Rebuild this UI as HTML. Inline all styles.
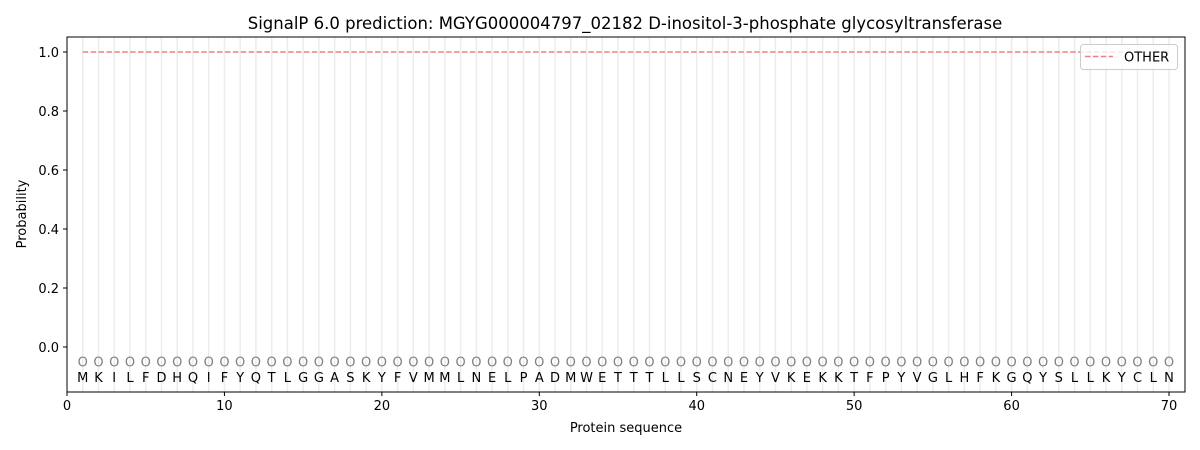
<!DOCTYPE html>
<html><head><meta charset="utf-8"><style>html,body{margin:0;padding:0;background:#fff}svg{display:block}</style></head><body>
<svg width="1200" height="450" xmlns="http://www.w3.org/2000/svg" font-family="'DejaVu Sans', 'Liberation Sans', sans-serif">
<rect width="1200" height="450" fill="#fff"/>
<path stroke="#ececec" stroke-width="1.5" fill="none" d="M82.74 37V392M98.49 37V392M114.23 37V392M129.97 37V392M145.72 37V392M161.46 37V392M177.20 37V392M192.94 37V392M208.69 37V392M224.43 37V392M240.17 37V392M255.92 37V392M271.66 37V392M287.40 37V392M303.15 37V392M318.89 37V392M334.63 37V392M350.37 37V392M366.12 37V392M381.86 37V392M397.60 37V392M413.35 37V392M429.09 37V392M444.83 37V392M460.58 37V392M476.32 37V392M492.06 37V392M507.80 37V392M523.55 37V392M539.29 37V392M555.03 37V392M570.78 37V392M586.52 37V392M602.26 37V392M618.01 37V392M633.75 37V392M649.49 37V392M665.23 37V392M680.98 37V392M696.72 37V392M712.46 37V392M728.21 37V392M743.95 37V392M759.69 37V392M775.44 37V392M791.18 37V392M806.92 37V392M822.66 37V392M838.41 37V392M854.15 37V392M869.89 37V392M885.64 37V392M901.38 37V392M917.12 37V392M932.87 37V392M948.61 37V392M964.35 37V392M980.09 37V392M995.84 37V392M1011.58 37V392M1027.32 37V392M1043.07 37V392M1058.81 37V392M1074.55 37V392M1090.30 37V392M1106.04 37V392M1121.78 37V392M1137.52 37V392M1153.27 37V392M1169.01 37V392"/>
<line x1="82.74" y1="52" x2="1169.01" y2="52" stroke="#f08080" stroke-width="1.5" stroke-dasharray="5.5,2.4"/>
<g font-size="13" text-anchor="middle">
<text y="366.5" fill="#808080" x="82.74 98.49 114.23 129.97 145.72 161.46 177.20 192.94 208.69 224.43 240.17 255.92 271.66 287.40 303.15 318.89 334.63 350.37 366.12 381.86 397.60 413.35 429.09 444.83 460.58 476.32 492.06 507.80 523.55 539.29 555.03 570.78 586.52 602.26 618.01 633.75 649.49 665.23 680.98 696.72 712.46 728.21 743.95 759.69 775.44 791.18 806.92 822.66 838.41 854.15 869.89 885.64 901.38 917.12 932.87 948.61 964.35 980.09 995.84 1011.58 1027.32 1043.07 1058.81 1074.55 1090.30 1106.04 1121.78 1137.52 1153.27 1169.01">OOOOOOOOOOOOOOOOOOOOOOOOOOOOOOOOOOOOOOOOOOOOOOOOOOOOOOOOOOOOOOOOOOOOOO</text>
<text y="382" fill="#000" x="82.74 98.49 114.23 129.97 145.72 161.46 177.20 192.94 208.69 224.43 240.17 255.92 271.66 287.40 303.15 318.89 334.63 350.37 366.12 381.86 397.60 413.35 429.09 444.83 460.58 476.32 492.06 507.80 523.55 539.29 555.03 570.78 586.52 602.26 618.01 633.75 649.49 665.23 680.98 696.72 712.46 728.21 743.95 759.69 775.44 791.18 806.92 822.66 838.41 854.15 869.89 885.64 901.38 917.12 932.87 948.61 964.35 980.09 995.84 1011.58 1027.32 1043.07 1058.81 1074.55 1090.30 1106.04 1121.78 1137.52 1153.27 1169.01">MKILFDHQIFYQTLGGASKYFVMMLNELPADMWETTTLLSCNEYVKEKKTFPYVGLHFKGQYSLLKYCLN</text>
</g>
<rect x="67" y="37" width="1118" height="355" fill="none" stroke="#000" stroke-width="1"/>
<g stroke="#000" stroke-width="1">
<path d="M67 392v4M224.43 392v4M381.86 392v4M539.29 392v4M696.72 392v4M854.15 392v4M1011.58 392v4M1169.01 392v4"/>
<path d="M67 347h-4M67 288h-4M67 229h-4M67 170h-4M67 111h-4M67 52h-4"/>
</g>
<g font-size="13" fill="#000" text-anchor="middle">
<text x="67" y="410">0</text><text x="224.43" y="410">10</text><text x="381.86" y="410">20</text><text x="539.29" y="410">30</text><text x="696.72" y="410">40</text><text x="854.15" y="410">50</text><text x="1011.58" y="410">60</text><text x="1169.01" y="410">70</text>
<text x="626" y="432">Protein sequence</text>
<text x="625" y="29" font-size="16.5">SignalP 6.0 prediction: MGYG000004797_02182 D-inositol-3-phosphate glycosyltransferase</text>
<text transform="translate(26,214) rotate(-90)">Probability</text>
</g>
<g font-size="13" fill="#000" text-anchor="end">
<text x="59" y="352">0.0</text><text x="59" y="293">0.2</text><text x="59" y="234">0.4</text><text x="59" y="175">0.6</text><text x="59" y="116">0.8</text><text x="59" y="57">1.0</text>
</g>
<rect x="1080.5" y="44.5" width="97" height="25" rx="3" fill="#fff" fill-opacity="0.8" stroke="#ccc"/>
<line x1="1085" y1="56.5" x2="1113" y2="56.5" stroke="#f08080" stroke-width="1.5" stroke-dasharray="5.5,2.4"/>
<text x="1124" y="61.5" font-size="13" fill="#000">OTHER</text>
</svg>
</body></html>
